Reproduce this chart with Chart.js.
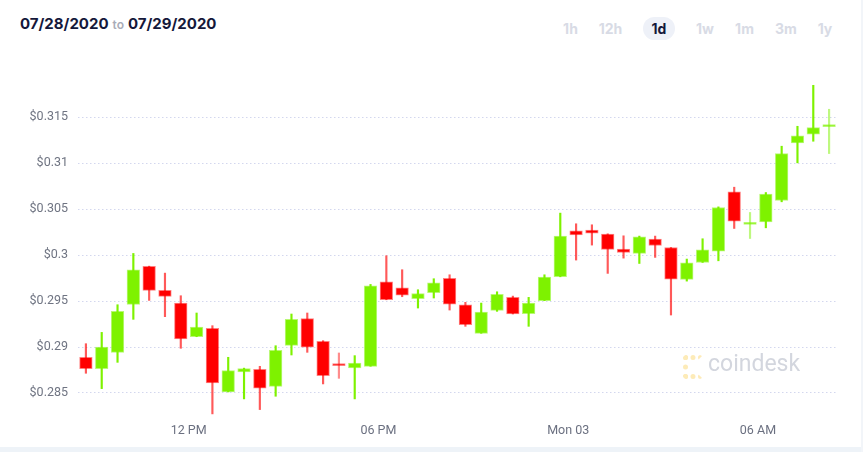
<!DOCTYPE html>
<html>
<head>
<meta charset="utf-8">
<script src="https://cdn.jsdelivr.net/npm/chart.js@4/dist/chart.umd.min.js"></script>
<style>
  html, body { margin: 0; padding: 0; background: #fff; }
  body { width: 863px; height: 452px; position: relative; overflow: hidden; font-family: Inter, "Noto Sans", sans-serif; }
  .range { position: absolute; left: 20px; top: 14px; font-size: 15px; font-weight: 700; color: #14183a; }
  .range span { font-size: 12px; color: #a9acb8; font-weight: 600; margin: 0 4px; }
  .periods { position: absolute; top: 17px; left: 0; height: 23px; }
  .periods div { position: absolute; top: 0; height: 23px; line-height: 23px; font-size: 14px; font-weight: 700; color: #d8dbe5; text-align: center; }
  .periods .on { color: #14183a; background: #eef1f8; border-radius: 12px; }
  #wrap { position: absolute; left: 0; top: 50px; width: 863px; height: 400px; }
  .mark { position: absolute; left: 683px; top: 353px; height: 28px; }
  .mark .logo { position: absolute; left: 0; top: 2px; width: 20px; height: 24px; border: 5px dotted #fdebb8; border-right-color: transparent; border-radius: 4px; box-sizing: border-box; }
  .mark .txt { position: absolute; left: 25px; top: -3px; font-family: Roboto, sans-serif; font-size: 23px; color: #d3d6de; }
  .strip { position: absolute; left: 0; right: 0; bottom: 0; height: 5px; background: #eef3f8; }
  .edge { position: absolute; right: 0; top: 0; bottom: 0; width: 2px; background: #f2f5f9; }
</style>
</head>
<body>
<div class="range">07/28/2020<span>to</span>07/29/2020</div>
<div class="periods">
  <div style="left:562px;width:17px">1h</div>
  <div style="left:598px;width:25px">12h</div>
  <div class="on" style="left:643px;width:32px">1d</div>
  <div style="left:695px;width:20px">1w</div>
  <div style="left:734px;width:21px">1m</div>
  <div style="left:775px;width:22px">3m</div>
  <div style="left:817px;width:16px">1y</div>
</div>
<div id="wrap"><canvas id="chart"></canvas></div>
<div class="mark"><div class="logo"></div><div class="txt">coindesk</div></div>
<div class="strip"></div>
<div class="edge"></div>
<script>
"use strict";

// 30 minute candles, x = hours since midnight of the first day (candle midpoints)
const startHour = 8.75;
const stepHour = 0.5;

const opens = [
  0.28888, 0.28765, 0.28942, 0.29464, 0.29877, 0.29616, 0.29478, 0.29112,
  0.29203, 0.28511, 0.28728, 0.28757, 0.28572, 0.29018, 0.29308, 0.29062,
  0.28800, 0.28772, 0.28790, 0.29710, 0.29645, 0.29525, 0.29591, 0.29746,
  0.29460, 0.29149, 0.29399, 0.29540, 0.29362, 0.29504, 0.29764, 0.30264,
  0.30272, 0.30230, 0.30065, 0.30018, 0.30174, 0.30083, 0.29736, 0.29920,
  0.30043, 0.30688, 0.30334, 0.30362, 0.30594, 0.31221, 0.31315, 0.31398
];
const highs = [
  0.29036, 0.29159, 0.29460, 0.30018, 0.29880, 0.29804, 0.29558, 0.29370,
  0.29232, 0.28888, 0.28770, 0.28790, 0.29014, 0.29359, 0.29370, 0.29069,
  0.28935, 0.28906, 0.29681, 0.29993, 0.29841, 0.29623, 0.29743, 0.29786,
  0.29486, 0.29478, 0.29601, 0.29554, 0.29540, 0.29786, 0.30457, 0.30341,
  0.30330, 0.30232, 0.30210, 0.30207, 0.30207, 0.30083, 0.29957, 0.30178,
  0.30525, 0.30739, 0.30464, 0.30681, 0.31185, 0.31402, 0.31848, 0.31587
];
const lows = [
  0.28714, 0.28547, 0.28833, 0.29301, 0.29507, 0.29330, 0.28986, 0.29112,
  0.28272, 0.28511, 0.28435, 0.28319, 0.28464, 0.28913, 0.28942, 0.28598,
  0.28659, 0.28435, 0.28790, 0.29514, 0.29547, 0.29424, 0.29533, 0.29402,
  0.29225, 0.29149, 0.29388, 0.29359, 0.29225, 0.29504, 0.29764, 0.29946,
  0.30109, 0.29801, 0.29967, 0.29909, 0.29975, 0.29348, 0.29717, 0.29920,
  0.29938, 0.30290, 0.30181, 0.30297, 0.30580, 0.31004, 0.31239, 0.31105
];
const closes = [
  0.28765, 0.29000, 0.29388, 0.29841, 0.29616, 0.29551, 0.29087, 0.29217,
  0.28609, 0.28743, 0.28765, 0.28551, 0.28964, 0.29301, 0.28998, 0.28688,
  0.28797, 0.28826, 0.29667, 0.29514, 0.29565, 0.29580, 0.29699, 0.29467,
  0.29243, 0.29380, 0.29572, 0.29359, 0.29478, 0.29761, 0.30207, 0.30221,
  0.30239, 0.30063, 0.30029, 0.30199, 0.30105, 0.29739, 0.29917, 0.30058,
  0.30518, 0.30370, 0.30337, 0.30663, 0.31105, 0.31297, 0.31388, 0.31399
];

const yTicks = [0.285, 0.29, 0.295, 0.3, 0.305, 0.31, 0.315];
const xTicks = [12, 18, 24, 30];
const xTickLabels = ['12 PM', '06 PM', 'Mon 03', '06 AM'];

const UP = '#7ef200';
const DOWN = '#ff0000';

const times = opens.map((o, i) => startHour + i * stepHour);
const isUp = opens.map((o, i) => closes[i] >= o);
const isDoji = opens.map((o, i) => Math.abs(closes[i] - o) < 0.00008);

const bodies = times.map((t, i) => ({ x: t, y: [opens[i], closes[i]] }));
const wicks = times.map((t, i) => ({ x: t, y: [lows[i], highs[i]] }));

const bodyFill = isUp.map(u => u ? UP : DOWN);
const bodyEdge = isUp.map(u => u ? 'rgba(126,242,0,0.55)' : 'rgba(255,0,0,0.5)');
const wickColor = isUp.map((u, i) => {
  if (isDoji[i]) return u ? 'rgba(126,242,0,0.5)' : 'rgba(255,0,0,0.45)';
  return u ? UP : 'rgba(255,0,0,0.65)';
});

new Chart(document.getElementById('chart'), {
  type: 'bar',
  data: {
    datasets: [
      {
        data: bodies,
        backgroundColor: bodyFill,
        borderColor: bodyEdge,
        borderWidth: 1,
        borderSkipped: false,
        barThickness: 12.6,
        minBarLength: 2,
        grouped: false,
      },
      {
        data: wicks,
        backgroundColor: wickColor,
        borderWidth: 0,
        barThickness: 1.5,
        grouped: false,
      },
    ],
  },
  options: {
    responsive: true,
    maintainAspectRatio: false,
    animation: false,
    layout: { padding: { top: 25, right: 26, left: 0, bottom: 0 } },
    plugins: { legend: { display: false }, tooltip: { enabled: false } },
    scales: {
      x: {
        type: 'linear',
        min: 8.5,
        max: 32.5,
        offset: false,
        afterBuildTicks: s => { s.ticks = xTicks.map(v => ({ value: v })); },
        afterFit: s => { s.height = 35; },
        grid: { display: false, drawTicks: false, offset: false },
        border: { display: false },
        ticks: {
          padding: 8,
          maxRotation: 0,
          autoSkip: false,
          color: '#6b7080',
          font: { family: 'Roboto', size: 12.5 },
          callback: v => xTickLabels[xTicks.indexOf(v)],
        },
      },
      y: {
        min: 0.2826,
        max: 0.3196,
        z: 1,
        afterBuildTicks: s => { s.ticks = yTicks.map(v => ({ value: v })); },
        afterFit: s => { s.width = 78; },
        grid: { color: '#d3d7ee', lineWidth: 1, drawTicks: false },
        border: { display: false, dash: [1.5, 2.5] },
        ticks: {
          padding: 10,
          color: '#6f7482',
          font: { family: 'Roboto', size: 12.5 },
          callback: v => '$' + v,
        },
      },
    },
  },
});
</script>
</body>
</html>
